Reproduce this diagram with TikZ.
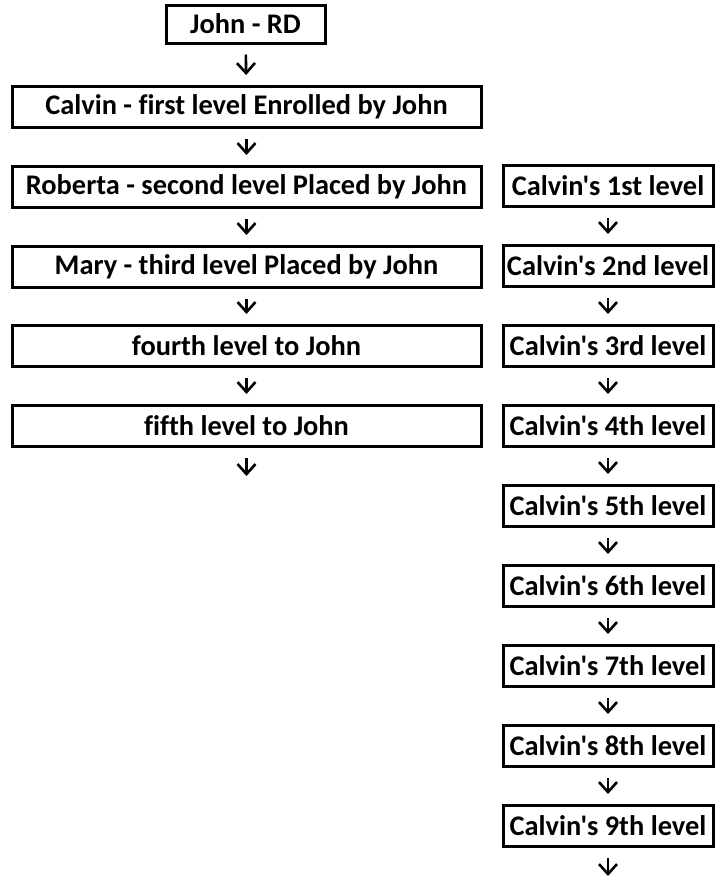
\documentclass[tikz,border=0pt]{standalone}
\usepackage{fontspec}
\setmainfont{Carlito}[Ligatures={TeXOff,NoCommon}]
\usepackage{tikz}
\usetikzlibrary{positioning,arrows.meta}

\tikzset{
  box/.style={draw,line width=1.5pt,minimum height=20.5pt,inner sep=0pt,
    font=\fontsize{14.2}{16}\selectfont\bfseries},
  lbox/.style={box,minimum width=234.5pt},
  rbox/.style={box,minimum width=105pt},
  arr/.style={-{Straight Barb[length=5pt,width=9pt,line width=1.3pt]},line width=1.3pt,
    shorten <=5pt,shorten >=5pt}
}

\begin{document}
\begin{tikzpicture}[x=0.5pt,y=-0.5pt]
\useasboundingbox (0,0) rectangle (714,880);
% John's line
\node[box,minimum width=79.5pt,minimum height=19pt] (john) at (245.5,24) {John - RD};
\node[lbox] (calvin) at (246.5,107) {Calvin - first level Enrolled by John};
\node[lbox] (roberta) at (246.5,187) {Roberta - second level Placed by John};
\node[lbox] (mary) at (246.5,267) {Mary - third level Placed by John};
\node[lbox] (fourth) at (246.5,346) {fourth level to John};
\node[lbox] (fifth) at (246.5,426) {fifth level to John};
\coordinate (lend) at (246.5,486);
\draw[arr] (john) -- (calvin);
\draw[arr] (calvin) -- (roberta);
\draw[arr] (roberta) -- (mary);
\draw[arr] (mary) -- (fourth);
\draw[arr] (fourth) -- (fifth);
\draw[arr] (fifth) -- (lend);
% Calvin's line
\node[rbox] (c1) at (608,186) {Calvin's 1st level};
\node[rbox] (c2) at (608,266) {Calvin's 2nd level};
\node[rbox] (c3) at (608,346) {Calvin's 3rd level};
\node[rbox] (c4) at (608,426) {Calvin's 4th level};
\node[rbox] (c5) at (608,506) {Calvin's 5th level};
\node[rbox] (c6) at (608,586) {Calvin's 6th level};
\node[rbox] (c7) at (608,666) {Calvin's 7th level};
\node[rbox] (c8) at (608,746) {Calvin's 8th level};
\node[rbox] (c9) at (608,826) {Calvin's 9th level};
\coordinate (rend) at (608,886);
\draw[arr] (c1) -- (c2);
\draw[arr] (c2) -- (c3);
\draw[arr] (c3) -- (c4);
\draw[arr] (c4) -- (c5);
\draw[arr] (c5) -- (c6);
\draw[arr] (c6) -- (c7);
\draw[arr] (c7) -- (c8);
\draw[arr] (c8) -- (c9);
\draw[arr] (c9) -- (rend);
\end{tikzpicture}
\end{document}
